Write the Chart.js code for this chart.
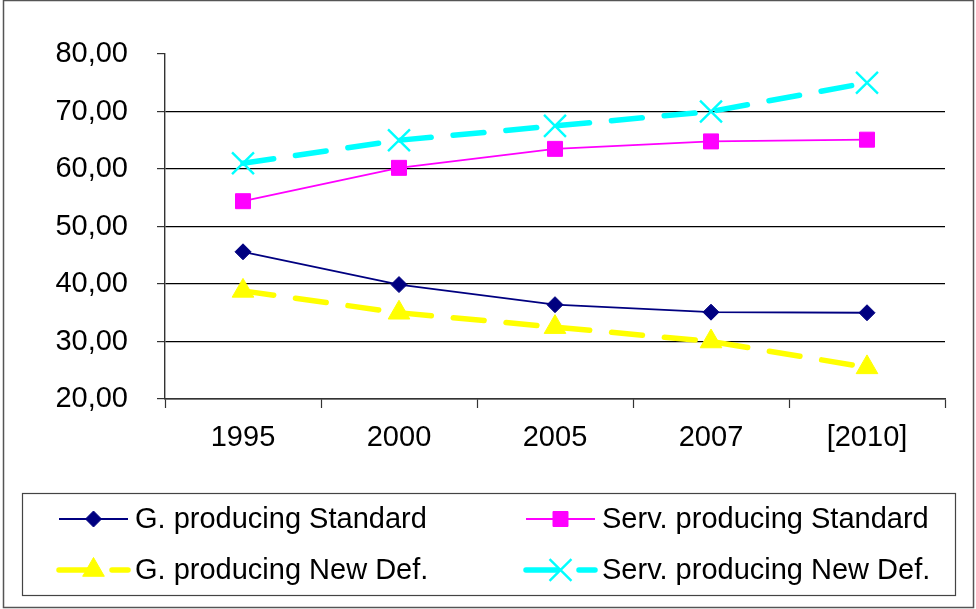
<html>
<head>
<meta charset="utf-8">
<script src="https://cdn.jsdelivr.net/npm/chart.js"></script>
<style>
    body { margin: 0; background: #fff; }
    #wrap { position: relative; width: 976px; height: 609px; }
</style>
</head>
<body>
<div id="wrap">
    <canvas id="lineChart"></canvas>
</div>
<script>
    // data
    const years = ['1995', '2000', '2005', '2007', '[2010]'];
    const goodsStandard = [45.6, 39.9, 36.4, 35.1, 35.0];
    const servStandard = [54.4, 60.2, 63.5, 64.8, 65.1];
    const goodsNewDef = [38.8, 35.0, 32.5, 30.0, 25.5];
    const servNewDef = [61.0, 65.0, 67.5, 70.0, 75.0];
    const seriesNames = ['G. producing Standard', 'Serv. producing Standard', 'G. producing New Def.', 'Serv. producing New Def.'];
    const yTicks = [20, 30, 40, 50, 60, 70, 80];

    const FONT = '"Liberation Sans", Arial, sans-serif';

    // legend box + outer frame, Excel style
    const frameLegend = {
        id: 'frameLegend',
        afterDraw(chart) {
            const ctx = chart.ctx;
            ctx.save();
            ctx.strokeStyle = '#555';
            ctx.lineWidth = 1.5;
            ctx.strokeRect(3.5, 0.5, 970, 607);

            ctx.strokeStyle = '#444';
            ctx.lineWidth = 1.2;
            ctx.strokeRect(22.5, 493.5, 933, 102);

            const cols = [59, 526];
            const rows = [519, 570];
            chart.data.datasets.forEach((ds, i) => {
                const x0 = cols[i % 2];
                const y = rows[Math.floor(i / 2)];
                ctx.save();
                ctx.strokeStyle = ds.borderColor;
                ctx.lineWidth = ds.borderWidth;
                ctx.lineCap = ds.borderCapStyle || 'butt';
                ctx.setLineDash(ds.borderDash || []);
                ctx.beginPath();
                ctx.moveTo(x0, y);
                ctx.lineTo(x0 + 69, y);
                ctx.stroke();
                ctx.restore();
                ctx.save();
                ctx.fillStyle = ds.pointBackgroundColor;
                ctx.strokeStyle = ds.pointBorderColor;
                ctx.lineWidth = ds.pointBorderWidth;
                Chart.helpers.drawPoint(ctx, {
                    pointStyle: ds.pointStyle,
                    radius: ds.pointRadius,
                    rotation: 0,
                    borderWidth: ds.pointBorderWidth
                }, x0 + 34.5, y);
                ctx.restore();
                ctx.fillStyle = '#000';
                ctx.font = '29px ' + FONT;
                ctx.textBaseline = 'middle';
                ctx.textAlign = 'left';
                ctx.fillText(ds.label, x0 + 76, y + 1);
            });
            ctx.restore();
        }
    };

    const ctx = document.getElementById('lineChart').getContext('2d');
    new Chart(ctx, {
        type: 'line',
        data: {
            labels: years,
            datasets: [{
                label: seriesNames[0],
                data: goodsStandard,
                borderColor: '#000080',
                borderWidth: 1.8,
                pointStyle: 'rectRot',
                pointRadius: 8,
                pointBackgroundColor: '#000080',
                pointBorderColor: '#000080',
                pointBorderWidth: 1
            }, {
                label: seriesNames[1],
                data: servStandard,
                borderColor: '#ff00ff',
                borderWidth: 1.8,
                pointStyle: 'rect',
                pointRadius: 10.6,
                pointBackgroundColor: '#ff00ff',
                pointBorderColor: '#ff00ff',
                pointBorderWidth: 1
            }, {
                label: seriesNames[2],
                data: goodsNewDef,
                borderColor: '#ffff00',
                borderWidth: 5.5,
                borderDash: [31, 22],
                borderCapStyle: 'round',
                pointStyle: 'triangle',
                pointRadius: 12.5,
                pointBackgroundColor: '#ffff00',
                pointBorderColor: '#ffff00',
                pointBorderWidth: 1
            }, {
                label: seriesNames[3],
                data: servNewDef,
                borderColor: '#00ffff',
                borderWidth: 5.5,
                borderDash: [31, 22],
                borderCapStyle: 'round',
                pointStyle: 'crossRot',
                pointRadius: 15.5,
                pointBackgroundColor: '#00ffff',
                pointBorderColor: '#00ffff',
                pointBorderWidth: 2.4
            }]
        },
        options: {
            responsive: true,
            maintainAspectRatio: false,
            animation: false,
            layout: {
                padding: {left: 0, right: 31, top: 54, bottom: 0}
            },
            plugins: {
                legend: {display: false},
                tooltip: {enabled: false}
            },
            elements: {
                line: {tension: 0}
            },
            scales: {
                x: {
                    offset: true,
                    grid: {
                        offset: true,
                        drawOnChartArea: false,
                        drawTicks: true,
                        tickLength: 9,
                        tickColor: '#333',
                        tickWidth: 1.2
                    },
                    border: {display: true, color: '#333', width: 1.4},
                    ticks: {
                        color: '#000',
                        font: {family: FONT, size: 29},
                        padding: 13,
                        maxRotation: 0
                    },
                    afterFit(scale) { scale.height = 210; }
                },
                y: {
                    min: 20,
                    max: 80,
                    afterBuildTicks(scale) { scale.ticks = yTicks.map(v => ({value: v})); },
                    grid: {
                        color: c => (c.tick && c.tick.value === 80) ? 'rgba(0,0,0,0)' : '#000',
                        lineWidth: 1.2,
                        drawTicks: true,
                        tickLength: 8,
                        tickColor: '#333',
                        tickWidth: 1.2
                    },
                    border: {display: true, color: '#333', width: 1.4},
                    ticks: {
                        color: '#000',
                        font: {family: FONT, size: 29},
                        padding: 29,
                        callback: v => v.toFixed(2).replace('.', ',')
                    },
                    afterFit(scale) { scale.width = 165; }
                }
            }
        },
        plugins: [frameLegend]
    });
</script>
</body>
</html>
